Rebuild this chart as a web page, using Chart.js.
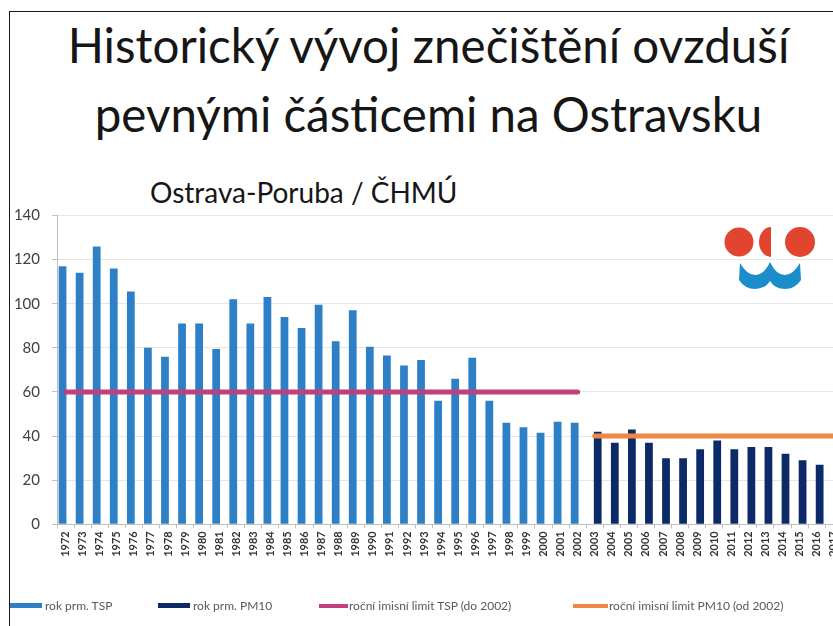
<!DOCTYPE html>
<html><head><meta charset="utf-8">
<script src="https://cdn.jsdelivr.net/npm/chart.js@4.4.1/dist/chart.umd.min.js"></script>
<style>
html,body{margin:0;padding:0;width:833px;height:626px;overflow:hidden;background:#fff;font-family:Lato,sans-serif;}
#frame{position:absolute;left:9px;top:11px;width:900px;height:700px;border-left:1.5px solid #1a1a1a;border-top:1.5px solid #1a1a1a;}
.t{position:absolute;white-space:nowrap;color:#161616;line-height:1.2;}
#t1{left:0;width:857px;text-align:center;top:16px;font-size:47.5px;}
#t2{left:0;width:857px;text-align:center;top:85px;font-size:47.5px;}
#t3{left:150px;top:176.4px;font-size:28px;}
#wrap{position:absolute;left:0;top:0;}
.lg{position:absolute;top:599px;height:14px;font-size:12px;line-height:14px;color:#595959;white-space:nowrap;}
.lg i{display:inline-block;vertical-align:middle;margin-right:3px;position:relative;top:-1px;}
#logo{position:absolute;left:0;top:0;width:833px;height:626px;pointer-events:none;}
</style>
</head><body>
<div id="frame"></div>
<div class="t" id="t1">Historický vývoj znečištění ovzduší</div>
<div class="t" id="t2">pevnými částicemi na Ostravsku</div>
<div class="t" id="t3">Ostrava-Poruba / ČHMÚ</div>
<div id="wrap"><canvas id="c" width="850" height="626"></canvas></div>
<svg id="logo" viewBox="0 0 833 626">
  <circle cx="739" cy="242" r="14.5" fill="#e2452f"/>
  <path d="M771 227 A12 15 0 0 0 771 257 Z" fill="#e2452f"/>
  <circle cx="800" cy="242" r="15" fill="#e2452f"/>
  <path d="M740 263 Q747 275 755 275 Q764 275 770 262 Q776 275 785 275 Q793 275 800 263 L801 280 Q795 289 785 289 Q775 289 770 281 Q765 289 755 289 Q745 289 739 280 Z" fill="#1b8dcb"/>
</svg>
<div class="lg" style="left:10px"><i style="width:32px;height:5px;background:#2e80c6"></i>rok prm. TSP</div>
<div class="lg" style="left:158px"><i style="width:32px;height:5px;background:#0c2a68"></i>rok prm. PM10</div>
<div class="lg" style="left:319px"><i style="width:29px;height:4px;background:#c0407d;margin-right:1px"></i>roční imisní limit TSP (do 2002)</div>
<div class="lg" style="left:573px"><i style="width:35px;height:4px;background:#ee8844;margin-right:1px"></i>roční imisní limit PM10 (od 2002)</div>
<script>
const years = ['1972','1973','1974','1975','1976','1977','1978','1979','1980','1981','1982','1983','1984','1985','1986','1987','1988','1989','1990','1991','1992','1993','1994','1995','1996','1997','1998','1999','2000','2001','2002','2003','2004','2005','2006','2007','2008','2009','2010','2011','2012','2013','2014','2015','2016','2017'];
const tspValues = [117,114,126,116,105.5,80,76,91,91,79.5,102,91,103,94,89,99.5,83,97,80.5,76.5,72,74.5,56,66,75.5,56,46,44,41.5,46.5,46,null,null,null,null,null,null,null,null,null,null,null,null,null,null,null];
const pm10Values = [null,null,null,null,null,null,null,null,null,null,null,null,null,null,null,null,null,null,null,null,null,null,null,null,null,null,null,null,null,null,null,42,37,43,37,30,30,34,38,34,35,35,32,29,27,null];
const tspLimit = [60,60,60,60,60,60,60,60,60,60,60,60,60,60,60,60,60,60,60,60,60,60,60,60,60,60,60,60,60,60,60,null,null,null,null,null,null,null,null,null,null,null,null,null,null,null];
const pm10Limit = [null,null,null,null,null,null,null,null,null,null,null,null,null,null,null,null,null,null,null,null,null,null,null,null,null,null,null,null,null,null,null,40,40,40,40,40,40,40,40,40,40,40,40,40,40,40];

new Chart(document.getElementById('c'), {
  type: 'bar',
  data: {
    labels: years,
    datasets: [
      {type:'bar', label:'rok prm. TSP', data:tspValues, backgroundColor:'#2e80c6', order:2},
      {type:'bar', label:'rok prm. PM10', data:pm10Values, backgroundColor:'#0c2a68', order:2},
      {type:'line', label:'roční imisní limit TSP (do 2002)', data:tspLimit, borderColor:'#c0407d', backgroundColor:'#c0407d', borderWidth:5, pointRadius:0, borderCapStyle:'round', order:1},
      {type:'line', label:'roční imisní limit PM10 (od 2002)', data:pm10Limit, borderColor:'#ee8844', backgroundColor:'#ee8844', borderWidth:5, pointRadius:0, borderCapStyle:'round', order:1}
    ]
  },
  options: {
    responsive: false,
    animation: false,
    layout: {padding: {left:10, right:6, top:215.5, bottom:61.7}},
    plugins: {legend: {display:false}, tooltip: {enabled:false}},
    datasets: {bar: {categoryPercentage:0.70, barPercentage:1.3}},
    scales: {
      x: {
        grid: {drawOnChartArea:false, drawTicks:true, tickLength:4, color:'#bfbfbf'},
        border: {color:'#bfbfbf'},
        ticks: {autoSkip:false, maxRotation:90, minRotation:90, padding:3, color:'#333', font:{family:'Lato', size:11, weight:'bold'}},
        afterFit(s){ s.height = 40; }
      },
      y: {
        min:0, max:140,
        ticks: {stepSize:20, padding:12, color:'#404040', font:{family:'Lato', size:15}},
        grid: {color:'#e6e6e6', tickLength:5, tickColor:'#bfbfbf'},
        border: {color:'#bfbfbf'},
        afterFit(s){ s.width = 47; }
      }
    }
  }
});
</script>
</body></html>
